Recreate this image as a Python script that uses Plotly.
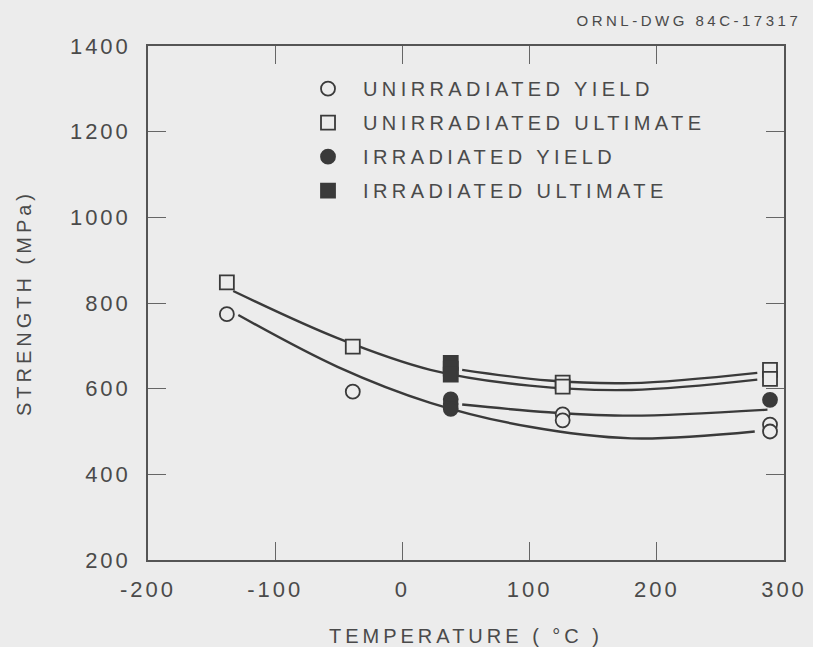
import plotly.graph_objects as go

# ---------------- data ----------------
# measured points
unirr_yield_x = [-138, -39, 126, 126, 289, 289]
unirr_yield_y = [774, 593, 540, 526, 516, 500]

unirr_ult_x = [-138, -39, 126, 126, 289, 289]
unirr_ult_y = [848, 698, 614, 605, 644, 623]

irr_yield_x = [38, 38, 38, 289]
irr_yield_y = [575, 564, 553, 574]

irr_ult_x = [38, 38, 38]
irr_ult_y = [660, 647, 633]

# fitted curves
fit_unirr_ult_x = [-133, -51, 22, 100, 180, 279]
fit_unirr_ult_y = [828, 718, 644, 607, 597, 621]

fit_irr_ult_x = [47, 115, 180, 279]
fit_irr_ult_y = [644, 619, 613, 637]

fit_unirr_yield_x = [-129, -51, 22, 100, 180, 277]
fit_unirr_yield_y = [772, 651, 567, 511, 484, 500]

fit_irr_yield_x = [47, 115, 180, 287]
fit_irr_yield_y = [563, 545, 537, 551]

legend_names = ["UNIRRADIATED YIELD", "UNIRRADIATED ULTIMATE",
                "IRRADIATED YIELD", "IRRADIATED ULTIMATE"]

x_ticks = [-200, -100, 0, 100, 200, 300]
x_tick_text = ["-200", "-100", "0", "100", "200", "300"]
y_ticks = [200, 400, 600, 800, 1000, 1200, 1400]

# ---------------- style ----------------
BG = "#ececec"
INK = "#3a3a3a"
TXT = "#4a4a4a"
FONT = "Liberation Sans"

fig = go.Figure()

for fx, fy in [(fit_unirr_ult_x, fit_unirr_ult_y), (fit_irr_ult_x, fit_irr_ult_y),
               (fit_unirr_yield_x, fit_unirr_yield_y), (fit_irr_yield_x, fit_irr_yield_y)]:
    fig.add_trace(go.Scatter(x=fx, y=fy, mode="lines",
                             line=dict(color=INK, width=2.4, shape="spline", smoothing=1.0),
                             showlegend=False, hoverinfo="skip"))

def pts(x, y, name, symbol, filled, order):
    fig.add_trace(go.Scatter(
        x=x, y=y, mode="markers", name=name,
        legendgroup=name, legendrank=order,
        marker=dict(symbol=symbol, size=14,
                    color=INK if filled else BG,
                    line=dict(color=INK, width=1.8)),
    ))

pts(irr_ult_x, irr_ult_y, legend_names[3], "square", True, 4)
pts(irr_yield_x, irr_yield_y, legend_names[2], "circle", True, 3)
pts(unirr_ult_x, unirr_ult_y, legend_names[1], "square", False, 2)
pts(unirr_yield_x, unirr_yield_y, legend_names[0], "circle", False, 1)

axis_common = dict(
    showgrid=False, zeroline=False, automargin=False,
    showline=True, linecolor="#555555", linewidth=1.5, mirror="ticks",
    ticks="inside", ticklen=18, tickwidth=1.2, tickcolor="#666666",
    tickfont=dict(family=FONT, size=22, color=TXT),
)

fig.update_layout(
    width=813, height=647,
    margin=dict(l=148, r=29, t=46, b=87, autoexpand=False),
    paper_bgcolor=BG, plot_bgcolor=BG,
    font=dict(family=FONT, color=TXT),
    xaxis=dict(range=[-200, 300], tickvals=x_ticks, ticktext=x_tick_text,
               title=dict(text="TEMPERATURE ( °C )", font=dict(family=FONT, size=20, color=TXT),
                          standoff=30),
               ticklabelstandoff=9, **axis_common),
    yaxis=dict(range=[200, 1400], tickvals=y_ticks,
               title=dict(text="STRENGTH (MPa)", font=dict(family=FONT, size=20, color=TXT),
                          standoff=45),
               ticklabelstandoff=11, **axis_common),
    legend=dict(x=0.228, y=0.955, xanchor="left", yanchor="top",
                bgcolor="rgba(0,0,0,0)", borderwidth=0,
                font=dict(family=FONT, size=20, color=TXT),
                traceorder="grouped", tracegroupgap=5, itemwidth=60),
    annotations=[dict(text="ORNL-DWG 84C-17317", xref="paper", yref="paper",
                      x=0.851, y=1.05, xanchor="center", yanchor="middle",
                      showarrow=False, font=dict(family=FONT, size=15, color=TXT))],
)

post = """
document.documentElement.style.margin='0';
document.body.style.margin='0';
document.body.style.padding='0';
var gd = document.getElementById('{plot_id}');
gd.querySelectorAll('.legend .scrollbox').forEach(function(t){t.removeAttribute('clip-path');});
gd.querySelectorAll('.annotation, .annotation *').forEach(function(t){t.removeAttribute('clip-path');});
gd.querySelectorAll('.legendtext').forEach(function(t){t.style.letterSpacing='4.4px';});
gd.querySelectorAll('.xtick text, .ytick text').forEach(function(t){t.style.letterSpacing='3px';});
gd.querySelectorAll('.xtitle, .ytitle').forEach(function(t){t.style.letterSpacing='4px';});
gd.querySelectorAll('.annotation-text').forEach(function(t){t.style.letterSpacing='3.5px';});
"""

fig.write_html("out.html", config={"responsive": False, "displayModeBar": False},
               post_script=post)
